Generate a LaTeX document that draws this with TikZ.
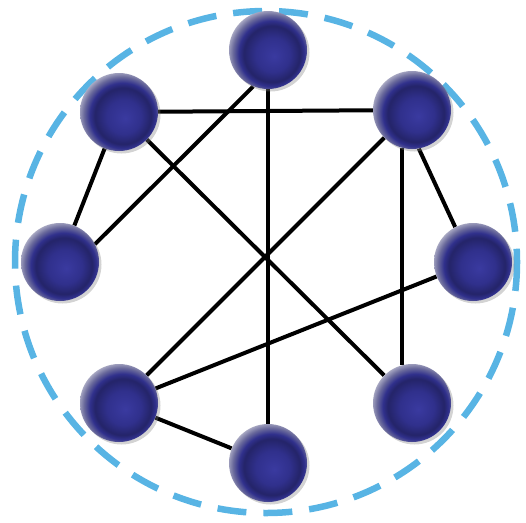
\documentclass[tikz,border=0pt]{standalone}
\usetikzlibrary{backgrounds,shadows}
\definecolor{dashblue}{RGB}{88,180,228}
\definecolor{navyA}{RGB}{58,58,160}
\definecolor{navyB}{RGB}{48,48,140}
\definecolor{navyC}{RGB}{36,36,105}
\definecolor{rimA}{RGB}{105,105,155}
\definecolor{rimB}{RGB}{185,185,205}
\definecolor{rimC}{RGB}{245,245,248}
\pgfdeclareradialshading{sphereball}{\pgfpoint{4bp}{-4bp}}{color(0bp)=(navyA); color(11bp)=(navyB); color(18bp)=(navyC); color(21bp)=(navyB); color(24.5bp)=(rimA); color(28.5bp)=(rimB); color(31bp)=(rimC); color(50bp)=(rimC)}
\tikzset{
  ball/.style={circle, minimum size=78pt, inner sep=0pt, shading=sphereball,
    drop shadow={shadow xshift=2.5pt, shadow yshift=-2.5pt, opacity=0.35}},
  link/.style={line width=4pt, black},
  ring/.style={line width=6.5pt, dashblue, dash pattern=on 29pt off 17pt}
}
\begin{document}
\begin{tikzpicture}[x=1pt,y=-1pt]
\useasboundingbox (0,0) rectangle (526,522);
\coordinate (c) at (266,262);
\node[ball] (t)  at (268,50)  {};
\node[ball] (ul) at (119,112) {};
\node[ball] (ur) at (412,110) {};
\node[ball] (l)  at (60,262)  {};
\node[ball] (r)  at (473,262) {};
\node[ball] (ll) at (119,403) {};
\node[ball] (lr) at (412,403) {};
\node[ball] (b)  at (268,463) {};
\begin{scope}[on background layer]
  \draw[ring] (c) circle[radius=251];
  \draw[link] (t) -- (b);
  \draw[link] (t.248) -- (l.27);
  \draw[link] (ul) -- (ur);
  \draw[link] (ul) -- (l);
  \draw[link] (ul) -- (lr);
  \draw[link] (ur) -- (ll);
  \draw[link] (ur.280) -- (r.117);
  \draw[link] (ur.255) -- (lr.105);
  \draw[link] (r) -- (ll);
  \draw[link] (ll) -- (b);
\end{scope}
\end{tikzpicture}
\end{document}
